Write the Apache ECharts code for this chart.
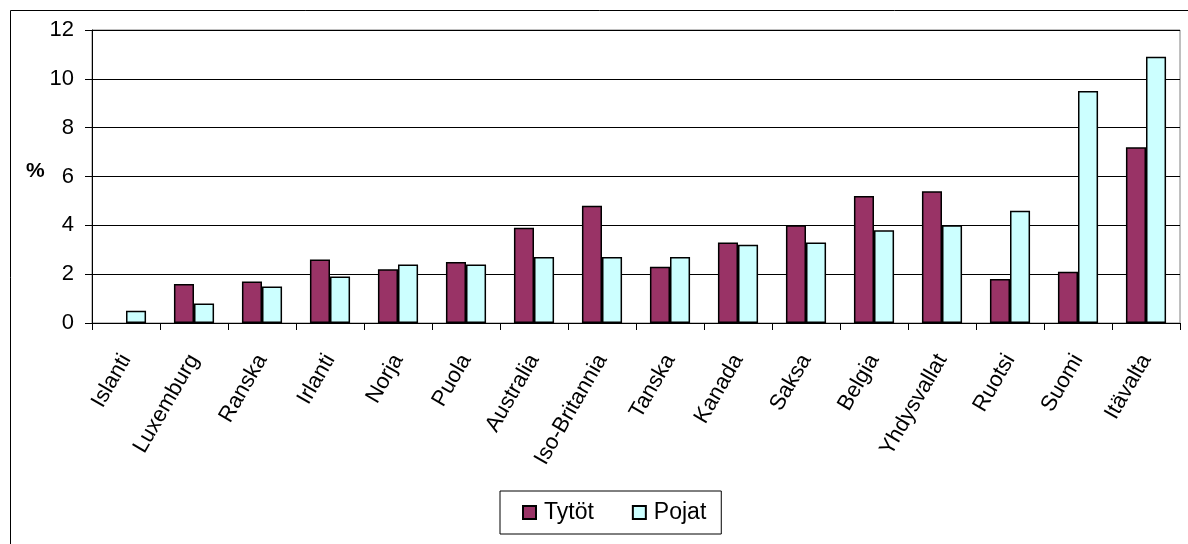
<!DOCTYPE html>
<html>
<head>
<meta charset="utf-8">
<script src="https://cdn.jsdelivr.net/npm/echarts@6/dist/echarts.min.js"></script>
<style>html,body{margin:0;padding:0;background:#fff}#c{width:1188px;height:544px}</style>
</head>
<body>
<div id="c"></div>
<script>
const categories = ['Islanti','Luxemburg','Ranska','Irlanti','Norja','Puola','Australia','Iso-Britannia','Tanska','Kanada','Saksa','Belgia','Yhdysvallat','Ruotsi','Suomi','Itävalta'];
const tytot = [0, 1.6, 1.7, 2.6, 2.2, 2.5, 3.9, 4.8, 2.3, 3.3, 4.0, 5.2, 5.4, 1.8, 2.1, 7.2];
const pojat = [0.5, 0.8, 1.5, 1.9, 2.4, 2.4, 2.7, 2.7, 2.7, 3.2, 3.3, 3.8, 4.0, 4.6, 9.5, 10.9];
const seriesNames = ['Tytöt', 'Pojat'];
const yTicks = [0, 2, 4, 6, 8, 10, 12];

const FONT = '"Liberation Sans", Arial, sans-serif';
// zero-height bars are not drawn with an outline
const toItems = arr => arr.map(v => v === 0 ? {value: v, itemStyle: {borderWidth: 0}} : v);

const chart = echarts.init(document.getElementById('c'), null, {renderer: 'canvas'});
chart.setOption({
  animation: false,
  backgroundColor: '#ffffff',
  textStyle: {fontFamily: FONT, color: '#000'},
  grid: {left: 92, right: 8, top: 30, bottom: 221, show: true, borderColor: '#808080', borderWidth: 1},
  graphic: [
    {type: 'rect', shape: {x: 10.5, y: 10.5, width: 1300, height: 700}, style: {fill: 'none', stroke: '#000', lineWidth: 1}, silent: true, z: 0},
    {type: 'text', left: 26, top: 161, style: {text: '%', font: 'bold 21px ' + FONT, fill: '#000'}}
  ],
  legend: {
    data: seriesNames,
    left: 500, top: 491,
    orient: 'horizontal',
    itemWidth: 13, itemHeight: 13, itemGap: 38,
    padding: [10, 15, 10, 22],
    borderColor: '#000', borderWidth: 1,
    icon: 'rect',
    textStyle: {fontFamily: FONT, fontSize: 23, color: '#000', padding: [0, 0, 0, 3]}
  },
  xAxis: [{
    type: 'category',
    data: categories,
    axisLine: {lineStyle: {color: '#000', width: 1}},
    axisTick: {show: true, length: 7, lineStyle: {color: '#000'}},
    axisLabel: {rotate: 60, fontSize: 22, color: '#000', fontFamily: FONT, margin: 33, interval: 0}
  }],
  yAxis: {
    type: 'value',
    min: yTicks[0], max: yTicks[yTicks.length - 1], interval: 2,
    axisLine: {show: true, lineStyle: {color: '#000'}},
    axisTick: {show: true, length: 7, lineStyle: {color: '#000'}},
    axisLabel: {fontSize: 22, color: '#000', fontFamily: FONT, margin: 18},
    splitLine: {show: true, lineStyle: {color: '#000', width: 1}}
  },
  series: [
    {name: seriesNames[0], type: 'bar', data: toItems(tytot), barGap: '0%', barCategoryGap: '41%',
     itemStyle: {color: '#993366', borderColor: '#000', borderWidth: 1.5}},
    {name: seriesNames[1], type: 'bar', data: toItems(pojat), barGap: '0%', barCategoryGap: '41%',
     itemStyle: {color: '#CCFFFF', borderColor: '#000', borderWidth: 1.5}}
  ]
});
</script>
</body>
</html>
